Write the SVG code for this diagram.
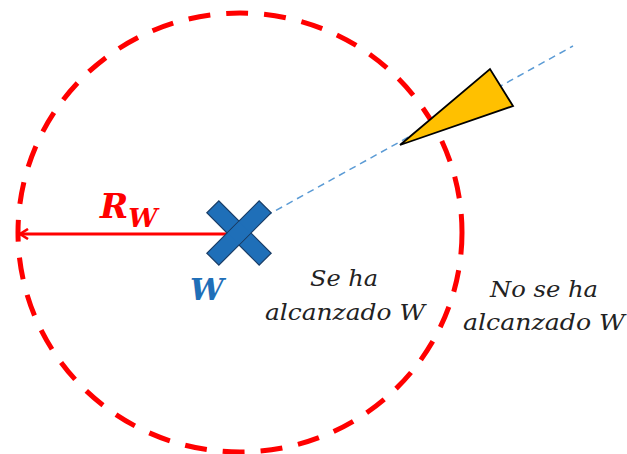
<svg xmlns="http://www.w3.org/2000/svg" width="627" height="454" viewBox="0 0 627 454">
<style>
.lbl{font-family:"DejaVu Serif","Liberation Serif",serif;font-style:italic;font-size:22px;fill:#222}
.bold{font-family:"DejaVu Serif","Liberation Serif",serif;font-style:italic;font-weight:bold}
</style>
<defs>
<marker id="ah" markerWidth="12" markerHeight="12" refX="10" refY="6" orient="auto" markerUnits="userSpaceOnUse">
<path d="M2,1 L10,6 L2,11" fill="none" stroke="#FF0000" stroke-width="2.6"/>
</marker>
</defs>
<rect width="627" height="454" fill="#fff"/>
<g id="circle">
<ellipse cx="240" cy="232.5" rx="222" ry="219.5" fill="none" stroke="#FF0000" stroke-width="5" stroke-dasharray="22 16"/>
</g>
<g id="connectors">
<line x1="255" y1="222" x2="573" y2="46" stroke="#5B9BD5" stroke-width="1.5" stroke-dasharray="7 5"/>
<line x1="238" y1="234" x2="20" y2="234" stroke="#FF0000" stroke-width="3" marker-end="url(#ah)"/>
</g>
<g id="vehicle">
<polygon points="400,145 490,69 513,106" fill="#FFC000" stroke="#000" stroke-width="1.8" stroke-linejoin="miter"/>
</g>
<g id="waypoint">
<g transform="translate(239,233) rotate(45)">
<rect x="-37" y="-8.5" width="74" height="17" fill="#1F6FB8" stroke="#1a3d66" stroke-width="1.2"/>
<rect x="-8.5" y="-37" width="17" height="74" fill="#1F6FB8" stroke="#1a3d66" stroke-width="1.2"/>
<rect x="-7.9" y="-7.9" width="15.8" height="15.8" fill="#1F6FB8"/>
</g>
<text class="bold" x="190" y="300" font-size="30" fill="#1F6FB8">W</text>
</g>
<g id="radius-label">
<text class="bold" x="100" y="218" font-size="34" fill="#FF0000">R<tspan font-size="26" dy="9">W</tspan></text>
</g>
<g id="inside-label">
<text class="lbl" x="344" y="286" text-anchor="middle" textLength="68" lengthAdjust="spacingAndGlyphs">Se ha</text>
<text class="lbl" x="345" y="320" text-anchor="middle" textLength="160" lengthAdjust="spacingAndGlyphs">alcanzado W</text>
</g>
<g id="outside-label">
<text class="lbl" x="544" y="297" text-anchor="middle" textLength="108" lengthAdjust="spacingAndGlyphs">No se ha</text>
<text class="lbl" x="544" y="330" text-anchor="middle" textLength="162" lengthAdjust="spacingAndGlyphs">alcanzado W</text>
</g>
</svg>
